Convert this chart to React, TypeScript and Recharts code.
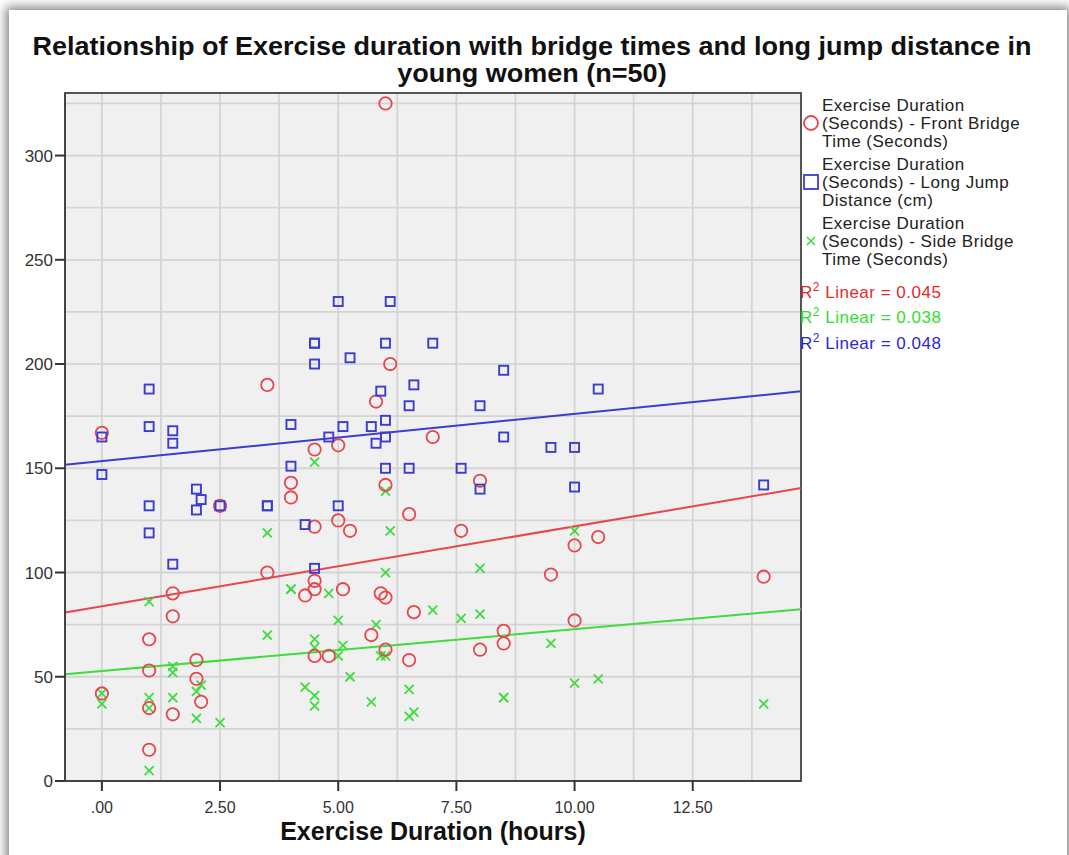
import { CartesianGrid, ReferenceArea, ReferenceLine, Scatter, ScatterChart, XAxis, YAxis } from "recharts";

// colours
const RED = "#e8464c";
const BLUE = "#3c3cd2";
const GREEN = "#3fdc3f";

const frontBridgeHours = [0, 0, 1, 1, 1, 1, 1.5, 1.5, 1.5, 2, 2, 2.1, 2.5, 3.5, 3.5, 4, 4, 4.3, 4.5, 4.5, 4.5, 4.5, 4.5, 4.8, 5, 5, 5.1, 5.25, 5.7, 5.8, 5.9, 6, 6, 6, 6, 6.1, 6.5, 6.5, 6.6, 7, 7.6, 8, 8, 8.5, 8.5, 9.5, 10, 10, 10.5, 14];
const frontBridgeTime = [167, 42, 68, 53, 35, 15, 90, 79, 32, 58, 49, 38, 132, 190, 100, 143, 136, 89, 159, 122, 96, 92, 60, 60, 161, 125, 92, 120, 70, 182, 90, 325, 142, 88, 63, 200, 128, 58, 81, 165, 120, 144, 63, 72, 66, 99, 113, 77, 117, 98];

const longJumpHours = [0, 0, 1, 1, 1, 1, 1.5, 1.5, 1.5, 2, 2, 2.1, 2.5, 3.5, 3.5, 4, 4, 4.3, 4.5, 4.5, 4.5, 4.5, 4.8, 5, 5, 5.1, 5.25, 5.7, 5.8, 5.9, 6, 6, 6, 6, 6.1, 6.5, 6.5, 6.6, 7, 7.6, 8, 8, 8.5, 8.5, 9.5, 10, 10, 10.5, 14];
const longJumpDistance = [165, 147, 188, 170, 132, 119, 168, 162, 104, 140, 130, 135, 132, 132, 132, 171, 151, 123, 210, 210, 200, 102, 165, 230, 132, 170, 203, 170, 162, 187, 210, 173, 165, 150, 230, 180, 150, 190, 210, 150, 180, 140, 197, 165, 160, 160, 141, 188, 142];

const sideBridgeHours = [0, 0, 1, 1, 1, 1, 1.5, 1.5, 1.5, 2, 2, 2.1, 2.5, 3.5, 3.5, 4, 4, 4.3, 4.5, 4.5, 4.5, 4.5, 4.5, 4.8, 5, 5, 5.1, 5.25, 5.7, 5.8, 5.9, 6, 6, 6, 6.1, 6.5, 6.5, 6.6, 7, 7.6, 8, 8, 8.5, 8.5, 9.5, 10, 10, 10.5, 14];
const sideBridgeTime = [37, 42, 86, 40, 35, 5, 55, 52, 40, 43, 30, 46, 28, 119, 70, 92, 92, 45, 153, 68, 64, 41, 36, 90, 77, 60, 65, 50, 38, 75, 60, 139, 100, 60, 120, 44, 31, 33, 82, 78, 102, 80, 40, 40, 66, 120, 47, 49, 37];

// fit line ends as drawn at the plot edges
const frontBridgeFit = [{ x: -0.78, y: 80.8 }, { x: 14.79, y: 140.5 }];
const longJumpFit = [{ x: -0.78, y: 151.7 }, { x: 14.79, y: 186.9 }];
const sideBridgeFit = [{ x: -0.78, y: 51.2 }, { x: 14.79, y: 82.4 }];

const xTicks = [0, 2.5, 5, 7.5, 10, 12.5];
const yTicks = [0, 50, 100, 150, 200, 250, 300];
const xGrid = [0, 1.25, 2.5, 3.75, 5, 6.25, 7.5, 8.75, 10, 11.25, 12.5, 13.75];
const yGrid = [25, 50, 75, 100, 125, 150, 175, 200, 225, 250, 275, 300, 325];

const zip = (xs: number[], ys: number[]) => xs.map((x, i) => ({ x, y: ys[i] }));

const SANS = "'Liberation Sans', Arial, sans-serif";

const circle = (p: any) => <circle cx={p.cx} cy={p.cy} r={6.2} fill="none" stroke={RED} strokeWidth={1.8} />;
const square = (p: any) => <rect x={p.cx - 4.5} y={p.cy - 4.5} width={9} height={9} fill="none" stroke={BLUE} strokeWidth={1.9} />;
const cross = (p: any) => (
  <path d={`M${p.cx - 4.5},${p.cy - 4.5}L${p.cx + 4.5},${p.cy + 4.5}M${p.cx + 4.5},${p.cy - 4.5}L${p.cx - 4.5},${p.cy + 4.5}`} stroke={GREEN} strokeWidth={1.8} fill="none" />
);

const fmtX = (v: number) => (v === 0 ? ".00" : v.toFixed(2));

function LegendItem({ top, marker, lines }: { top: number; marker: React.ReactNode; lines: string[] }) {
  return (
    <div style={{ position: "absolute", left: 802, top, fontFamily: SANS, fontSize: 17, letterSpacing: 0.5, lineHeight: "18px", color: "#222" }}>
      <svg width={20} height={20} style={{ position: "absolute", left: 0, top: 16 }}>{marker}</svg>
      <div style={{ marginLeft: 20 }}>
        {lines.map((l) => (
          <div key={l}>{l}</div>
        ))}
      </div>
    </div>
  );
}

function R2({ top, color, value }: { top: number; color: string; value: string }) {
  return (
    <div style={{ position: "absolute", left: 800, top, fontFamily: SANS, fontSize: 17, letterSpacing: 0.5, color }}>
      R<sup style={{ fontSize: 12 }}>2</sup> Linear = {value}
    </div>
  );
}

export default function App() {
  return (
    <div style={{ position: "absolute", left: 0, top: 0, width: 1069, height: 855, background: "#fff", overflow: "hidden" }}>
      <div style={{ position: "absolute", left: 9, top: 10, width: 1058, height: 860, background: "#fff", boxShadow: "0 0 10px 3px rgba(0,0,0,0.5)" }} />

      <div
        style={{
          position: "absolute",
          left: 0,
          top: 33,
          width: 1064,
          textAlign: "center",
          fontFamily: SANS,
          fontWeight: "bold",
          fontSize: 25,
          lineHeight: "27px",
          color: "#111",
          transform: "scaleX(1.08)",
          transformOrigin: "532px 0",
        }}
      >
        Relationship of Exercise duration with bridge times and long jump distance in
        <br />
        young women (n=50)
      </div>

      <div style={{ position: "absolute", left: 0, top: 0 }}>
        <ScatterChart width={1069} height={855} margin={{ top: 93, right: 268, bottom: 44, left: 0 }}>
          <CartesianGrid fill="#f0f0f0" stroke="#d4d4d4" strokeWidth={1.8} verticalValues={xGrid} horizontalValues={yGrid} />
          <XAxis
            type="number"
            dataKey="x"
            domain={[-0.78, 14.79]}
            allowDataOverflow
            ticks={xTicks}
            tickFormatter={fmtX}
            height={30}
            tickSize={10}
            tickMargin={11}
            axisLine={{ stroke: "#444", strokeWidth: 2 }}
            tickLine={{ stroke: "#333", strokeWidth: 2 }}
            tick={{ fill: "#333", fontSize: 16, fontFamily: SANS }}
          />
          <YAxis
            type="number"
            dataKey="y"
            domain={[0, 330]}
            allowDataOverflow
            ticks={yTicks}
            width={65}
            tickSize={10}
            axisLine={{ stroke: "#444", strokeWidth: 2 }}
            tickLine={{ stroke: "#333", strokeWidth: 2 }}
            tick={{ fill: "#333", fontSize: 17, fontFamily: SANS }}
          />
          <ReferenceArea x1={-0.78} x2={14.79} y1={0} y2={330} fill="none" stroke="#555" strokeWidth={2} ifOverflow="visible" />
          <ReferenceLine segment={longJumpFit} stroke={BLUE} strokeWidth={2} ifOverflow="visible" />
          <ReferenceLine segment={frontBridgeFit} stroke={RED} strokeWidth={2} ifOverflow="visible" />
          <ReferenceLine segment={sideBridgeFit} stroke={GREEN} strokeWidth={2} ifOverflow="visible" />
          <Scatter data={zip(sideBridgeHours, sideBridgeTime)} shape={cross} isAnimationActive={false} />
          <Scatter data={zip(frontBridgeHours, frontBridgeTime)} shape={circle} isAnimationActive={false} />
          <Scatter data={zip(longJumpHours, longJumpDistance)} shape={square} isAnimationActive={false} />
        </ScatterChart>
      </div>

      <div style={{ position: "absolute", left: 0, top: 817, width: 866, textAlign: "center", fontFamily: SANS, fontWeight: "bold", fontSize: 25, color: "#111" }}>
        Exercise Duration (hours)
      </div>

      <LegendItem top={97} marker={<circle cx={9} cy={10} r={7} fill="none" stroke={RED} strokeWidth={1.8} />} lines={["Exercise Duration", "(Seconds) - Front Bridge", "Time (Seconds)"]} />
      <LegendItem top={156} marker={<rect x={2} y={3} width={14} height={14} fill="none" stroke={BLUE} strokeWidth={1.8} />} lines={["Exercise Duration", "(Seconds) - Long Jump", "Distance (cm)"]} />
      <LegendItem top={215} marker={<path d="M5,6L13,14M13,6L5,14" stroke={GREEN} strokeWidth={1.6} fill="none" />} lines={["Exercise Duration", "(Seconds) - Side Bridge", "Time (Seconds)"]} />

      <R2 top={280} color="#e42a2a" value="0.045" />
      <R2 top={305} color="#2ee02e" value="0.038" />
      <R2 top={331} color="#2828d8" value="0.048" />
    </div>
  );
}
